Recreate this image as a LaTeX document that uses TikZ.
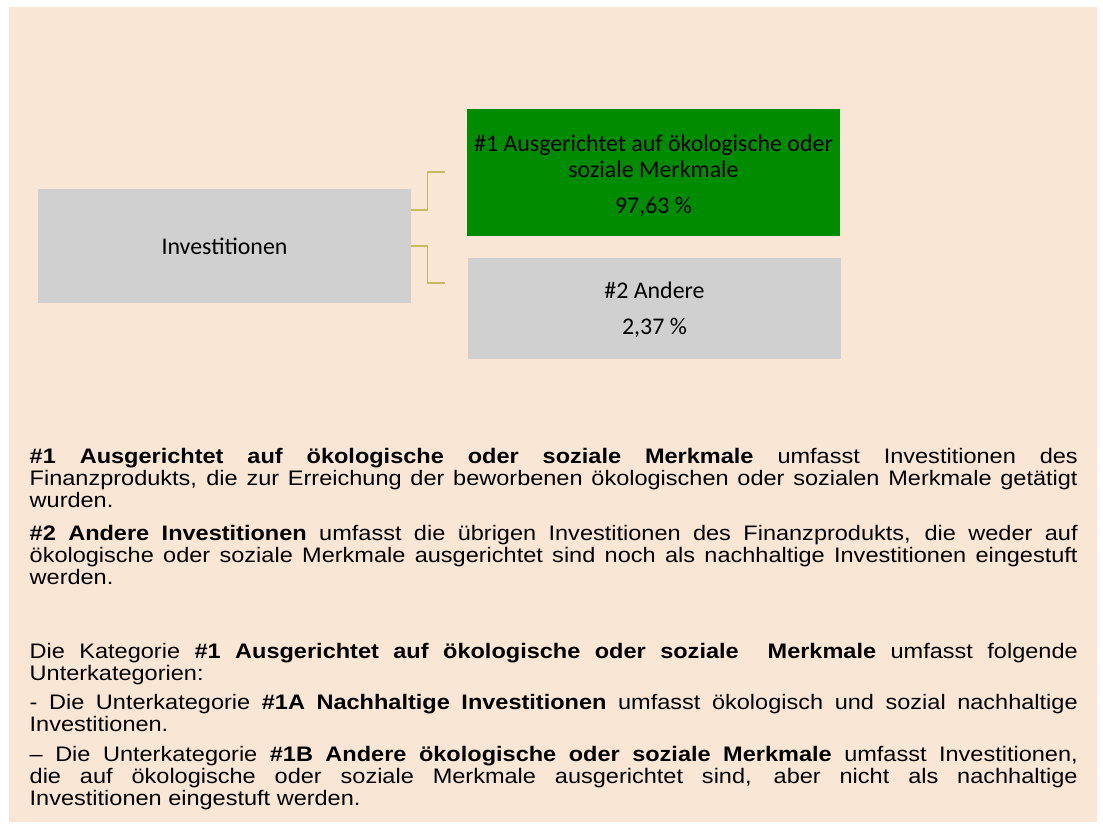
\documentclass[tikz,border=0pt]{standalone}
\usepackage{fontspec}
\setmainfont{Liberation Sans}[FakeStretch=1.12]
\newfontfamily\boxfont{Carlito}
\usetikzlibrary{calc}
\definecolor{peach}{RGB}{250,230,213}
\definecolor{boxgray}{RGB}{208,208,208}
\definecolor{boxgreen}{RGB}{0,140,0}
\definecolor{conncol}{RGB}{200,184,100}
\begin{document}
\begin{tikzpicture}[x=1pt,y=-1pt,
  catbox/.style={rectangle,inner sep=0pt,minimum width=373pt,align=center,
    font=\boxfont\fontsize{23.9}{26}\selectfont,text=black},
  conn/.style={draw=conncol,line width=1.4pt},
  para/.style={anchor=base west,inner sep=0pt,text width=1048pt,align=justify,
    font=\fontsize{21}{22}\selectfont,text=black,
    execute at begin node={\hyphenpenalty=10000\tolerance=10000\emergencystretch=50pt}}]
\useasboundingbox (0,0) rectangle (1103,825);
\fill[white] (0,0) rectangle (1103,825);
\fill[peach] (9,7) rectangle (1097,822);
% boxes
\node[catbox,fill=boxgray,minimum height=114pt] (inv) at (224.5,246) {Investitionen};
\node[catbox,fill=boxgreen,minimum height=127pt] (g1) at (653.5,172.5)
  {\rule{0pt}{23pt}\#1 Ausgerichtet auf ökologische oder\\soziale Merkmale\\[10pt]97,63 \%};
\node[catbox,fill=boxgray,minimum height=101pt] (g2) at (654.5,308.5)
  {\rule{0pt}{20pt}\#2 Andere\\[10pt]2,37 \%};
% connectors
\coordinate (e1) at (445,172);
\coordinate (e2) at (445,283);
\draw[conn] ([yshift=36pt]inv.east) -- ++(16,0) |- (e1);
\draw[conn] (inv.east) -- ++(16,0) |- (e2);
% text
\node[para] (p1) at (29.5,463) {\textbf{\#1 Ausgerichtet auf ökologische oder soziale Merkmale} umfasst Investitionen des\linebreak Finanzprodukts, die zur Erreichung der beworbenen ökologischen oder sozialen Merkmale getätigt\linebreak wurden.};
\node[para] (p2) at (29.5,540) {\textbf{\#2 Andere Investitionen} umfasst die übrigen Investitionen des Finanzprodukts, die weder auf\linebreak ökologische oder soziale Merkmale ausgerichtet sind noch als nachhaltige Investitionen eingestuft\linebreak werden.};
\node[para] (p3) at (29.5,658) {Die Kategorie \textbf{\#1 Ausgerichtet auf ökologische oder soziale\ \ Merkmale} umfasst folgende\linebreak Unterkategorien:};
\node[para] (p4) at (29.5,709) {- Die Unterkategorie \textbf{\#1A Nachhaltige Investitionen} umfasst ökologisch und sozial nachhaltige\linebreak Investitionen.};
\node[para] (p5) at (29.5,761) {– Die Unterkategorie \textbf{\#1B Andere ökologische oder soziale Merkmale} umfasst Investitionen,\linebreak die auf ökologische oder soziale Merkmale ausgerichtet sind, aber nicht als nachhaltige\linebreak Investitionen eingestuft werden.};
\end{tikzpicture}
\end{document}
